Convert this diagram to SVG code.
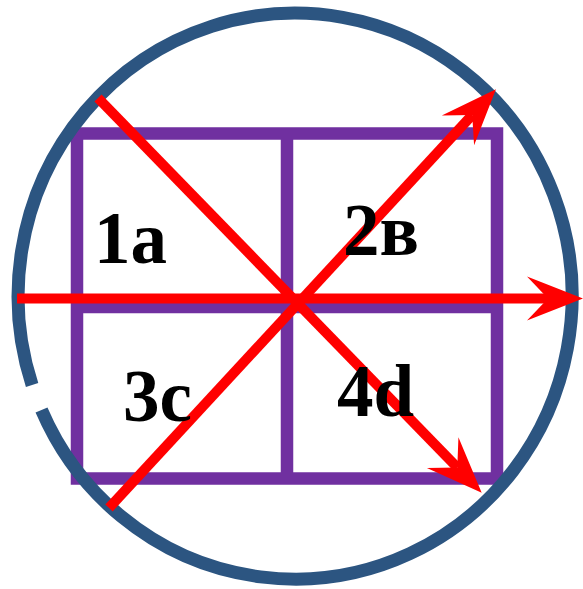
<svg xmlns="http://www.w3.org/2000/svg" width="583" height="589" viewBox="0 0 583 589">
<style>
.grid{fill:none;stroke:#7030A0;stroke-width:12.5}
.ring{fill:none;stroke:#2C5581;stroke-width:13}
.ray{fill:none;stroke:#FF0000;stroke-width:10;stroke-linecap:butt}
.lbl{font-family:"Liberation Serif","Times New Roman",serif;font-weight:bold;font-size:73px;fill:#000}
</style>
<defs>
<marker id="head" markerUnits="userSpaceOnUse" markerWidth="60" markerHeight="50" viewBox="-57 -25 60 50" refX="-35" refY="0" orient="auto" overflow="visible">
<path d="M0,0 L-56,-22 L-35,0 L-56,22 Z" fill="#FF0000"/>
</marker>
</defs>
<rect width="583" height="589" fill="#fff"/>
<g id="grid">
<rect class="grid" x="77" y="133.5" width="420" height="345"/>
<line class="grid" x1="287" y1="133.5" x2="287" y2="478.5"/>
<line class="grid" x1="77" y1="307" x2="497" y2="307"/>
</g>
<g id="circle">
<path class="ring" d="M32.1,385 A277 283 0 1 1 41.5,410"/>
</g>
<g id="connectors">
<line class="ray" x1="17" y1="298.5" x2="548" y2="298.5" marker-end="url(#head)"/>
<line class="ray" x1="98" y1="98" x2="457.3" y2="467.6" marker-end="url(#head)"/>
<line class="ray" x1="109" y1="508" x2="472.2" y2="115" marker-end="url(#head)"/>
</g>
<g id="cell-1a"><text class="lbl" x="94" y="263">1a</text></g>
<g id="cell-2v"><text class="lbl" x="343" y="255">2в</text></g>
<g id="cell-3c"><text class="lbl" x="123" y="421">3c</text></g>
<g id="cell-4d"><text class="lbl" x="337" y="416">4d</text></g>
</svg>
